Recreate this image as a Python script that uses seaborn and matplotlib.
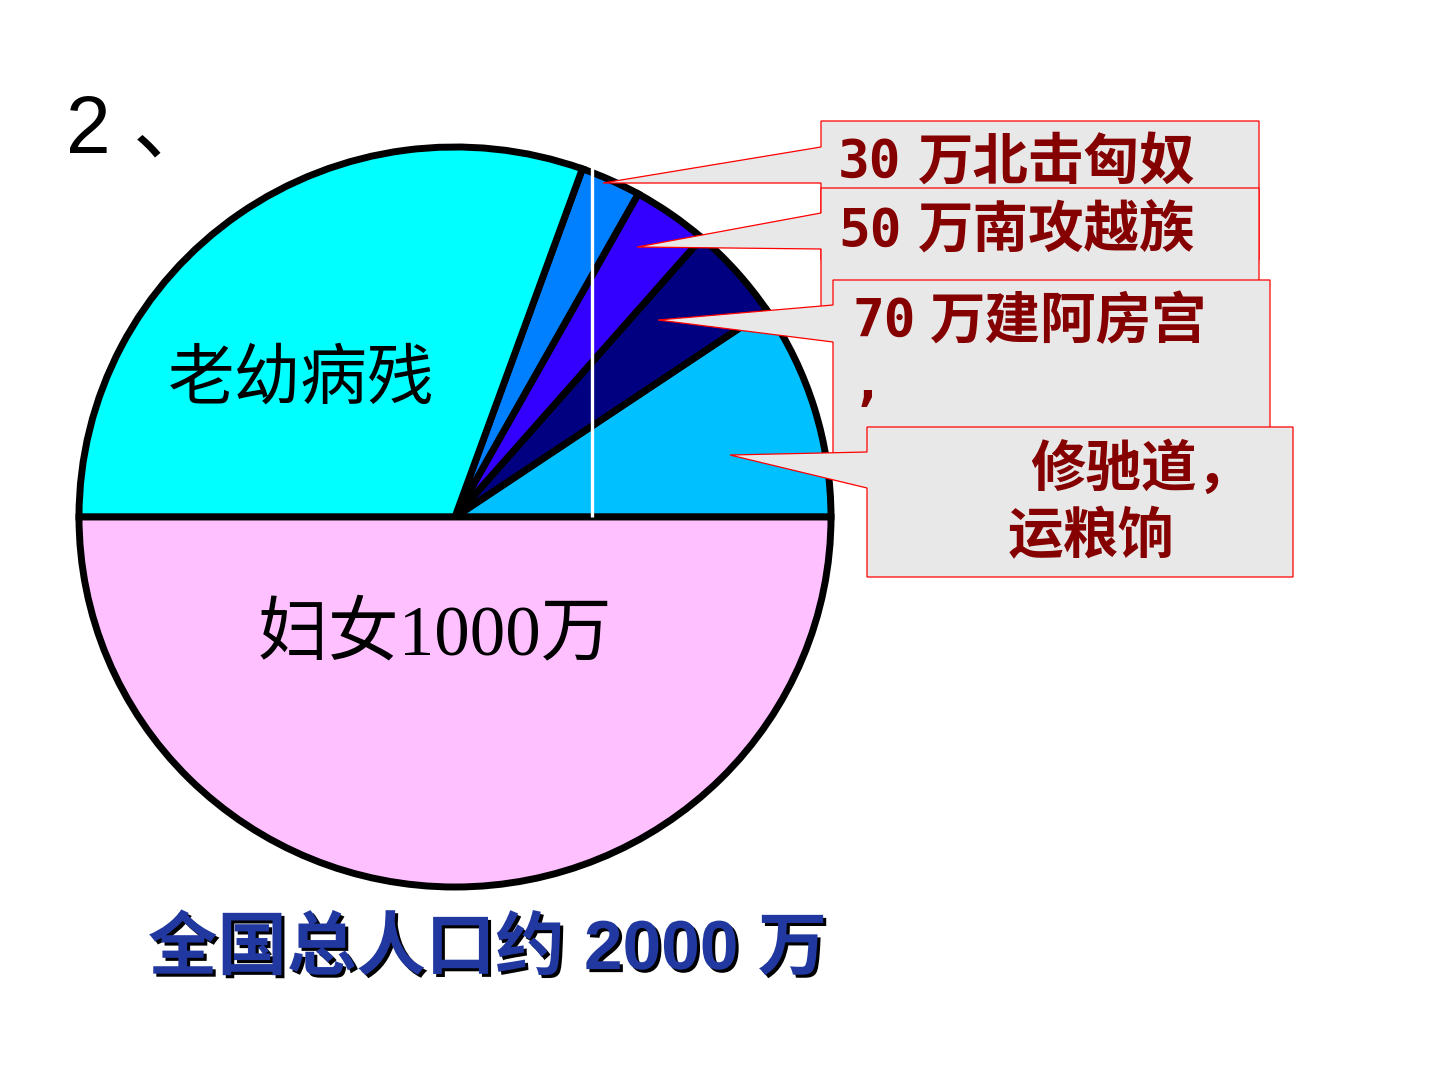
import matplotlib
matplotlib.use("Agg")
import matplotlib.pyplot as plt
import matplotlib.patheffects as pe
from matplotlib.patches import Polygon
import seaborn as sns

# ---- data (万人) ----
categories = ['修驰道，运粮饷', '70万建阿房宫', '50万南攻越族', '30万北击匈奴', '老幼病残', '妇女1000万']
values = [189, 83, 66, 52, 610, 1000]
slice_colors = ['#00C0FF', '#000080', '#3300FF', '#0080FF', '#00FFFF', '#FFC0FF']

callout_numbers = ['30', '50', '70']
callout_words = ['万北击匈奴', '万南攻越族', '万建阿房宫']
road_lines = ['修驰道，', '运粮饷']
title_text = '全国总人口约 2000 万'
heading_text = '2 、'

sns.set_theme(style='white')
plt.rcParams['font.family'] = ['Noto Sans CJK SC', 'DejaVu Sans']

W, H = 1440, 1080
fig = plt.figure(figsize=(W / 100, H / 100), dpi=100)
fig.patch.set_facecolor('white')

# ---- pie (slightly elliptical, like the reference) ----
cx, cy, rx, ry = 455, 517, 376, 370
ax = fig.add_axes([(cx - rx) / W, (H - cy - ry) / H, 2 * rx / W, 2 * ry / H])
palette = sns.color_palette(slice_colors)
wedges, _ = ax.pie(values, colors=palette, startangle=0, counterclock=True,
                   radius=1, wedgeprops=dict(edgecolor='black', linewidth=5))
ax.set_aspect('auto')
ax.set_xlim(-1, 1)
ax.set_ylim(-1, 1)
ax.axis('off')
# white vertical guide line
ax.plot([0.364, 0.364], [0.0, 0.965], color='white', lw=2.4, zorder=10, solid_capstyle='butt')

# ---- overlay axes in pixel coordinates ----
ov = fig.add_axes([0, 0, 1, 1], zorder=5)
ov.set_xlim(0, W)
ov.set_ylim(H, 0)
ov.axis('off')
ov.patch.set_alpha(0)

# callout boxes: (left, right, top, bottom, base_top, base_bottom, tip_x, tip_y)
boxes = [
    (821, 1259, 121, 260, 147, 183, 603, 183),
    (821, 1259, 188, 335, 213, 249, 637, 247),
    (833, 1270, 280, 470, 305, 342, 658, 320),
    (867, 1293, 427, 577, 452, 488, 730, 455),
]
for i, (L, R, T, B, y0, y1, tx, ty) in enumerate(boxes):
    verts = [(L, T), (R, T), (R, B), (L, B), (L, y1), (tx, ty), (L, y0)]
    ov.add_patch(Polygon(verts, closed=True, facecolor='#E8E8E8', edgecolor='#FF0000',
                         linewidth=0.9, zorder=2 * i + 1))

red = '#850000'
mono = ['DejaVu Sans Mono', 'Noto Sans CJK SC']
cjk = ['Noto Sans CJK SC', 'DejaVu Sans']
num_pos = [(838, 163), (838, 232), (852, 322)]
word_x = [918, 918, 930]
for i in range(3):
    x, y = num_pos[i]
    ov.text(x, y, callout_numbers[i], fontsize=38, color=red, fontweight='bold',
            family=mono, ha='left', va='center', zorder=2 * i + 1.5)
    ov.text(word_x[i], y, callout_words[i], fontsize=40, color=red, fontweight='bold',
            family=cjk, ha='left', va='center', zorder=2 * i + 1.5)
ov.text(852, 400, ',', fontsize=38, color=red, fontweight='bold',
        family=mono, ha='left', va='baseline', zorder=5.5)
ov.text(1030, 470, road_lines[0], fontsize=40, color=red, fontweight='bold',
        family=cjk, ha='left', va='center', zorder=7.5)
ov.text(1008, 537, road_lines[1], fontsize=40, color=red, fontweight='bold',
        family=cjk, ha='left', va='center', zorder=7.5)

# in-pie labels
ov.text(301, 380, categories[4], fontsize=48, color='black',
        family=['Noto Sans CJK SC'], ha='center', va='center', zorder=9)
ov.text(435, 636, categories[5], fontsize=51, color='black',
        family=['Liberation Serif', 'Noto Sans CJK SC'], ha='center', va='center', zorder=9)

# heading
ov.text(66, 152, heading_text, fontsize=58, color='black',
        family=['Liberation Sans', 'Noto Sans CJK SC'], ha='left', va='baseline', zorder=9)

# title with shadow
ov.text(148, 950, title_text, fontsize=50, color='#2038A0', fontweight='bold',
        family=['Liberation Sans', 'Noto Sans CJK SC'], ha='left', va='center', zorder=9,
        path_effects=[pe.SimplePatchShadow(offset=(2.2, -2.2), shadow_rgbFace='black', alpha=1.0),
                      pe.Normal()])

fig.savefig('out.png', dpi=100, facecolor='white')
